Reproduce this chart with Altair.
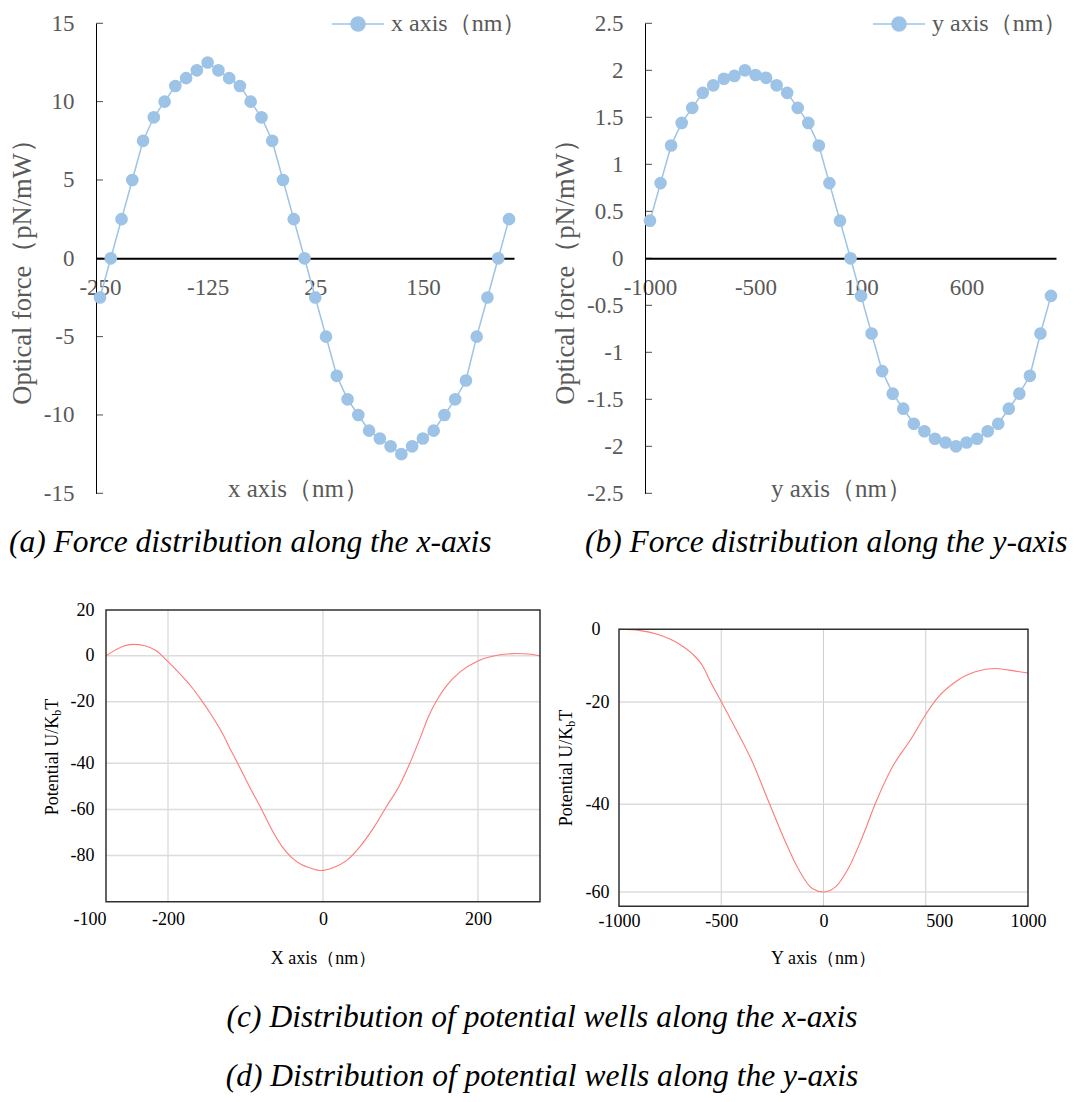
import altair as alt
import pandas as pd

W, H = 1065, 1086
SERIF = "Liberation Serif"
GREY = "#595959"
BLUE = "#9DC3E6"
RED = "#FF7A7A"

# ---------------- data ----------------
# (a) force along x (category axis, 39 points)
A_FORCE = [-2.5, 0, 2.5, 5, 7.5, 9, 10, 11, 11.5, 12, 12.5, 12, 11.5, 11, 10, 9, 7.5, 5, 2.5, 0,
           -2.5, -5, -7.5, -9, -10, -11, -11.5, -12, -12.5, -12, -11.5, -11, -10, -9, -7.8, -5, -2.5, 0, 2.5]
A_XTICK_POS = [0, 10, 20, 30]
A_XTICK_LABELS = ["-250", "-125", "25", "150"]
A_YTICKS = [-15, -10, -5, 0, 5, 10, 15]
A_YTICK_LABELS = ["-15", "-10", "-5", "0", "5", "10", "15"]
A_SERIES = "x axis（nm）"

# (b) force along y
B_FORCE = [0.40, 0.80, 1.20, 1.44, 1.60, 1.76, 1.84, 1.91, 1.94, 2.00, 1.95, 1.92, 1.84, 1.76, 1.60, 1.44, 1.20, 0.80, 0.40, 0,
           -0.40, -0.80, -1.20, -1.44, -1.60, -1.76, -1.84, -1.92, -1.96, -2.00, -1.96, -1.92, -1.84, -1.76, -1.60, -1.44, -1.25, -0.80, -0.40]
B_XTICK_POS = [0, 10, 20, 30]
B_XTICK_LABELS = ["-1000", "-500", "100", "600"]
B_YTICKS = [-2.5, -2, -1.5, -1, -0.5, 0, 0.5, 1, 1.5, 2, 2.5]
B_YTICK_LABELS = ["-2.5", "-2", "-1.5", "-1", "-0.5", "0", "0.5", "1", "1.5", "2", "2.5"]
B_SERIES = "y axis（nm）"

# (c) potential along x
C_X = [-280, -268, -258, -245, -230, -215, -202, -187, -169, -157, -144, -131, -118, -109, -96, -79, -66, -53,
       -40, -28, -17, -2, 13, 31, 48, 65, 82, 99, 112, 125, 136, 147, 160, 177, 200, 220, 250, 265, 280]
C_U = [0, 2.5, 4.2, 5.0, 4.4, 2.2, -1.9, -7.0, -13.8, -19.3, -24.3, -29.7, -36.2, -40.7, -49.4, -60.1, -68.8, -76.0,
       -81.0, -83.9, -85.3, -86.5, -85.3, -82, -76, -68.1, -58.7, -49.4, -40, -32, -24.9, -19.3, -12.8, -7.0, -2.2, -0.1, 1.0, 0.8, 0]
C_XTICKS = [-280, -200, 0, 200]
C_XTICK_LABELS = ["-100", "-200", "0", "200"]
C_YTICKS = [20, 0, -20, -40, -60, -80]
C_YTICK_LABELS = ["20", "0", "-20", "-40", "-60", "-80"]
C_VGRID = [-200, 0, 200]
C_HGRID = [0, -20, -40, -60, -80]

# (d) potential along y
D_X = [-1000, -902, -804, -707, -642, -593, -552, -499, -430, -348, -267, -186, -120, -55, 0,
       57, 122, 188, 253, 334, 432, 502, 562, 644, 742, 840, 938, 1000]
D_U = [0, -0.3, -1.5, -4.0, -6.7, -9.9, -14.5, -20, -25.2, -31.7, -39.6, -48.6, -55.0, -59.2, -60,
       -58.9, -54.6, -47.7, -39.9, -32.9, -27.0, -22.3, -18.6, -14.5, -11.7, -10.8, -11.5, -12.0]
D_XTICKS = [-1000, -500, 0, 500, 1000]
D_XTICK_LABELS = ["-1000", "-500", "0", "500", "1000"]
D_YTICKS = [0, -20, -40, -60]
D_YTICK_LABELS = ["0", "-20", "-40", "-60"]
D_VGRID = [-500, 0, 500]
D_HGRID = [-20, -40, -60]

CAPTIONS = ["(a) Force distribution along the x-axis",
            "(b) Force distribution along the y-axis",
            "(c) Distribution of potential wells along the x-axis",
            "(d) Distribution of potential wells along the y-axis"]
YTITLE_PARTS = ["Potential U/K", "b", "T"]


def label_expr(values, labels):
    vals = ",".join(repr(v) for v in values)
    labs = ",".join("'" + l + "'" for l in labels)
    return f"[{labs}][indexof([{vals}], datum.value)]"


LEGEND_SYMBOL = ("M-1,0L-0.27,0M0.27,0L1,0M0.27,0A0.27,0.27,0,1,1,-0.27,0"
                 "A0.27,0.27,0,1,1,0.27,0Z")


def force_panel(values, xtp, xtl, yt, ytl, series, xdom, xrng, ydom, yrng,
                axis_x, zero_y, ytitle_x, xtitle_x, legend_x):
    df = pd.DataFrame({"idx": list(range(len(values))), "force": values, "series": series})
    xs = alt.Scale(domain=xdom, range=xrng, nice=False, zero=False)
    ys = alt.Scale(domain=ydom, range=yrng, nice=False, zero=False)
    xaxis = alt.Axis(orient="bottom", offset=zero_y - H, values=xtp, labelExpr=label_expr(xtp, xtl),
                     domain=True, domainColor="black", domainWidth=2, ticks=False, tickSize=0,
                     grid=False, labelFlush=False, labelOverlap=False, labelFont=SERIF,
                     labelFontSize=23, labelColor=GREY, labelBaseline="middle", labelPadding=29,
                     title=series, titleX=xtitle_x, titleY=480 - zero_y, titleAngle=0,
                     titleAlign="center", titleBaseline="middle", titleFont=SERIF,
                     titleFontSize=25, titleFontWeight="normal", titleColor=GREY)
    yaxis = alt.Axis(orient="left", offset=-axis_x, values=yt, labelExpr=label_expr(yt, ytl),
                     domain=True, domainColor="black", domainWidth=1, ticks=False, tickSize=0,
                     grid=False, labelFlush=False, labelOverlap=False, labelFont=SERIF,
                     labelFontSize=23, labelColor=GREY, labelPadding=22,
                     title="Optical force（pN/mW）", titleX=ytitle_x - axis_x, titleY=257,
                     titleAngle=270, titleAlign="center", titleBaseline="middle",
                     titleFont=SERIF, titleFontSize=26.5, titleFontWeight="normal", titleColor=GREY)
    color = alt.Color("series:N", scale=alt.Scale(range=[BLUE]),
                      legend=alt.Legend(orient="none", legendX=legend_x, legendY=-11, title=None,
                                        symbolType=LEGEND_SYMBOL, symbolSize=2704,
                                        symbolStrokeWidth=1.5, symbolFillColor=BLUE,
                                        symbolStrokeColor=BLUE, symbolOpacity=1,
                                        labelFont=SERIF, labelFontSize=24, labelColor=GREY,
                                        labelOffset=6, padding=0, labelLimit=0))
    enc = dict(x=alt.X("idx:Q", scale=xs, axis=xaxis), y=alt.Y("force:Q", scale=ys, axis=yaxis),
               color=color)
    line = alt.Chart(df).mark_line(strokeWidth=1.5).encode(**enc)
    pts = alt.Chart(df).mark_point(filled=True, size=160, opacity=1).encode(**enc)
    ticks = alt.Chart(pd.DataFrame({"t": yt})).mark_tick(size=7, thickness=1, color="black").encode(
        y=alt.Y("t:Q", scale=ys, axis=yaxis), x=alt.value(axis_x + 3.5))
    return alt.layer(line, pts, ticks)


def potential_panel(xv, uv, xt, xtl, yt, ytl, vgrid, hgrid, xdom, xrng, ydom, yrng,
                    xtitle, xtitle_x, xlabel_pad, xlabel_align, ylabel_pad, ytitle_c):
    left, bottom = xrng[0], yrng[0]
    xs = alt.Scale(domain=xdom, range=xrng, nice=False, zero=False)
    ys = alt.Scale(domain=ydom, range=yrng, nice=False, zero=False)
    xaxis = alt.Axis(orient="bottom", offset=bottom - H, values=xt, labelExpr=label_expr(xt, xtl),
                     domain=False, ticks=False, tickSize=0, grid=False, labelFlush=False,
                     labelOverlap=False, labelFont=SERIF, labelFontSize=18, labelColor="black",
                     labelBaseline="middle", labelPadding=xlabel_pad, labelAlign=xlabel_align,
                     title=xtitle, titleX=xtitle_x, titleY=950 - bottom, titleAngle=0,
                     titleAlign="center", titleBaseline="middle", titleFont=SERIF,
                     titleFontSize=18, titleFontWeight="normal", titleColor="black")
    yaxis = alt.Axis(orient="left", offset=-left, values=yt, labelExpr=label_expr(yt, ytl),
                     domain=False, ticks=False, tickSize=0, grid=False, labelFlush=False,
                     labelOverlap=False, labelFont=SERIF, labelFontSize=18, labelColor="black",
                     labelPadding=ylabel_pad, title=None)
    x0, x1 = xdom[0], xdom[-1]
    y0, y1 = ydom[0], ydom[-1]
    vg = alt.Chart(pd.DataFrame({"g": vgrid})).mark_rule(color="#cfcfcf", strokeWidth=1).encode(
        x=alt.X("g:Q", scale=xs, axis=xaxis), y=alt.Y(datum=y0, scale=ys, axis=yaxis), y2=alt.Y2(datum=y1))
    hg = alt.Chart(pd.DataFrame({"g": hgrid})).mark_rule(color="#dcdcdc", strokeWidth=1.5).encode(
        y=alt.Y("g:Q", scale=ys, axis=yaxis), x=alt.X(datum=x0, scale=xs, axis=xaxis), x2=alt.X2(datum=x1))
    df = pd.DataFrame({"pos": xv, "u": uv})
    line = alt.Chart(df).mark_line(color=RED, strokeWidth=1.1, interpolate="monotone").encode(
        x=alt.X("pos:Q", scale=xs, axis=xaxis), y=alt.Y("u:Q", scale=ys, axis=yaxis))
    box = alt.Chart(pd.DataFrame({"a": [0]})).mark_rect(filled=False, stroke="#303030", strokeWidth=1.5).encode(
        x=alt.X(datum=x0, scale=xs, axis=xaxis), x2=alt.X2(datum=x1),
        y=alt.Y(datum=y0, scale=ys, axis=yaxis), y2=alt.Y2(datum=y1))
    # rotated y title with subscript
    cx, cy = ytitle_c
    w_main, w_b = 99.5, 6.0
    start = cy + (w_main + w_b + 11) / 2
    t_main = alt.Chart(pd.DataFrame({"t": [YTITLE_PARTS[0]]})).mark_text(
        angle=270, align="left", baseline="middle", font=SERIF, fontSize=18, color="black").encode(
        x=alt.value(cx), y=alt.value(start), text="t:N")
    t_b = alt.Chart(pd.DataFrame({"t": [YTITLE_PARTS[1]]})).mark_text(
        angle=270, align="left", baseline="middle", font=SERIF, fontSize=12, color="black",
        dx=w_main, dy=4).encode(x=alt.value(cx), y=alt.value(start), text="t:N")
    t_t = alt.Chart(pd.DataFrame({"t": [YTITLE_PARTS[2]]})).mark_text(
        angle=270, align="left", baseline="middle", font=SERIF, fontSize=18, color="black",
        dx=w_main + w_b).encode(x=alt.value(cx), y=alt.value(start), text="t:N")
    return alt.layer(vg, hg, line, box, t_main, t_b, t_t)


panel_a = force_panel(A_FORCE, A_XTICK_POS, A_XTICK_LABELS, A_YTICKS, A_YTICK_LABELS, A_SERIES,
                      [-0.372, 38.465], [88, 506], [-15, 15], [485.3, 15.3],
                      axis_x=88, zero_y=250.3, ytitle_x=14.6, xtitle_x=290, legend_x=323)
panel_b = force_panel(B_FORCE, B_XTICK_POS, B_XTICK_LABELS, B_YTICKS, B_YTICK_LABELS, B_SERIES,
                      [-0.474, 38.474], [637, 1048], [-2.5, 2.5], [485.3, 15.3],
                      axis_x=637, zero_y=250.3, ytitle_x=557.7, xtitle_x=833, legend_x=864)

panel_c = potential_panel(C_X, C_U, C_XTICKS, C_XTICK_LABELS, C_YTICKS, C_YTICK_LABELS, C_VGRID, C_HGRID,
                          [-280, 280], [98, 532], [-100, -40, -20, 20], [893.7, 755.3, 693.7, 602],
                          "X axis（nm）", 315, 18,
                          {"condition": {"test": "datum.value == -280", "value": "right"}, "value": "center"},
                          12, (44.5, 749))
panel_d = potential_panel(D_X, D_U, D_XTICKS, D_XTICK_LABELS, D_YTICKS, D_YTICK_LABELS, D_VGRID, D_HGRID,
                          [-1000, 1000], [611, 1020], [-63.3, -60, -40, -20, 0], [898.3, 884, 796.3, 694, 621.3],
                          "Y axis（nm）", 815, 15.5,
                          {"condition": {"test": "datum.value == 500", "value": "left"}, "value": "center"},
                          {"condition": {"test": "datum.value == 0", "value": 19}, "value": 10},
                          (559, 760))

cap_pos = [(1, 535, "left"), (577, 535, "left"), (534, 1010, "center"), (534, 1069, "center")]
captions = []
for text, (cx, cy, al) in zip(CAPTIONS, cap_pos):
    captions.append(alt.Chart(pd.DataFrame({"t": [text]})).mark_text(
        align=al, baseline="middle", font=SERIF, fontSize=31.5, fontStyle="italic", color="black").encode(
        x=alt.value(cx), y=alt.value(cy), text="t:N"))

chart = alt.layer(panel_a, panel_b, panel_c, panel_d, *captions).resolve_scale(
    x="independent", y="independent", color="independent").resolve_axis(
    x="independent", y="independent").resolve_legend(color="independent").properties(
    width=W, height=H, autosize=alt.AutoSizeParams(type="none"), padding=0,
    background="white").configure_view(stroke=None)

chart.save("out.html", embed_options={"renderer": "svg", "actions": False})
